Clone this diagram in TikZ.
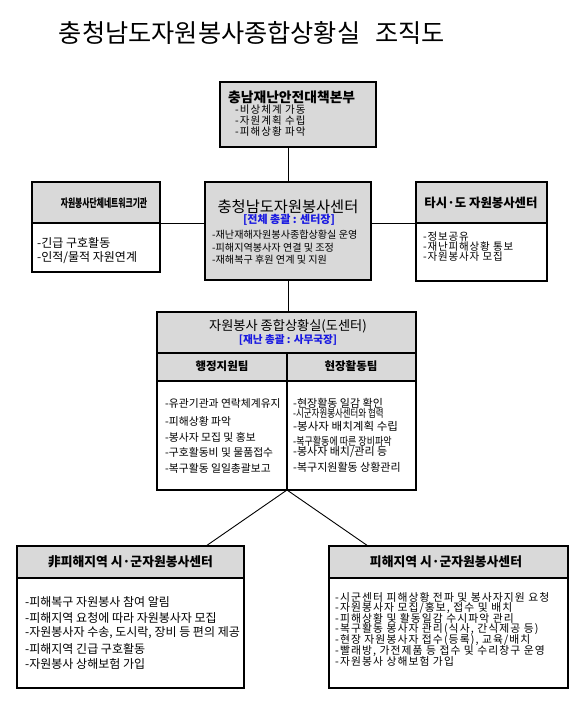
\documentclass[tikz,border=0pt]{standalone}
\usepackage{fontspec}
\usepackage{graphicx}
\setmainfont{Noto Sans CJK KR}
\newcommand\fsz[1]{\fontsize{#1}{#1}\selectfont}
\newcommand\sqz[2]{\scalebox{#1}[1]{#2}}
\newcommand\trk[1]{\addfontfeatures{LetterSpace=#1}}
\definecolor{boxgray}{RGB}{217,217,217}
\definecolor{leadblue}{RGB}{25,25,225}
\begin{document}
\begin{tikzpicture}[x=1pt,y=-1pt,
  gbox/.style={draw=black, line width=1.4pt, fill=boxgray, inner sep=0pt, outer sep=0pt, anchor=north west},
  wbox/.style={draw=black, line width=1.4pt, fill=white, inner sep=0pt, outer sep=0pt, anchor=north west},
  item/.style={anchor=west, inner sep=0pt},
  ctext/.style={anchor=center, inner sep=0pt},
  conn/.style={draw=black, line width=0.9pt},
  lead/.style={ctext, text=leadblue, font=\bfseries\fsz{10.6}}]
\useasboundingbox (0,0) rectangle (580,709);
\fill[white] (0,0) rectangle (580,709);

% title
\node[ctext, font=\fsz{25.2}] (title) at (252,33) {충청남도자원봉사종합상황실\hspace{0.6em}조직도};

% top HQ box
\node[gbox, minimum width=156pt, minimum height=65pt] (hq) at (220,82) {};
\node[item, font=\bfseries\fsz{13.8}] (hqt) at (228,97.5) {충남재난안전대책본부};
\node[item, font={\fsz{10.5}\trk{10}}] (hq1) at (235,110) {-비상체계 가동};
\node[item, font={\fsz{10.5}\trk{10}}] (hq2) at (235,121) {-자원계획 수립};
\node[item, font={\fsz{10.5}\trk{10}}] (hq3) at (235,132) {-피해상황 파악};

% centre box
\node[gbox, minimum width=166pt, minimum height=98pt] (ctr) at (205,182) {};
\node[ctext, font=\fsz{15.3}] (ctrt) at (288,206.5) {충청남도자원봉사센터};
\node[lead, font=\bfseries\fsz{11}] (ctrl) at (289,220) {[전체 총괄 : 센터장]};
\node[item, font=\fsz{10.1}] (ctr1) at (212,235) {-재난재해자원봉사종합상황실 운영};
\node[item, font=\fsz{10.1}] (ctr2) at (212,247.5) {-피해지역봉사자 연결 및 조정};
\node[item, font=\fsz{10.1}] (ctr3) at (212,260) {-재해복구 후원 연계 및 지원};

% left box
\node[gbox, minimum width=128pt, minimum height=41pt] (lhead) at (32,182) {};
\node[wbox, minimum width=128pt, minimum height=49pt] (lbox) at (32,223) {};
\node[ctext, font=\bfseries\fsz{11.5}] (lht) at (104,203) {\sqz{0.68}{자원봉사단체네트워크기관}};
\node[item, font=\fsz{12}] (l1) at (37,243) {-긴급 구호활동};
\node[item, font=\fsz{12}] (l2) at (37,257.5) {-인적/물적 자원연계};

% right box
\node[gbox, minimum width=131pt, minimum height=41pt] (rhead) at (416,182) {};
\node[wbox, minimum width=131pt, minimum height=58pt] (rbox) at (416,223) {};
\node[ctext, font=\bfseries\fsz{12.4}] (rht) at (481,203) {타시·도 자원봉사센터};
\node[item, font={\fsz{10.5}\trk{8}}] (r1) at (423,237) {-정보공유};
\node[item, font={\fsz{10.5}\trk{8}}] (r2) at (423,247) {-재난피해상황 통보};
\node[item, font={\fsz{10.5}\trk{8}}] (r3) at (423,257) {-자원봉사자 모집};

% situation room box
\node[gbox, minimum width=259pt, minimum height=41pt] (sitt) at (157,312) {};
\node[gbox, minimum width=130pt, minimum height=28pt] (sitha) at (157,353) {};
\node[gbox, minimum width=129pt, minimum height=28pt] (sithb) at (287,353) {};
\node[wbox, minimum width=130pt, minimum height=109pt] (sitba) at (157,381) {};
\node[wbox, minimum width=129pt, minimum height=109pt] (sitbb) at (287,381) {};
\node[ctext, font=\fsz{13.2}] (sittt) at (288,326) {자원봉사 종합상황실(도센터)};
\node[lead] (sitl) at (288,339.5) {[재난 총괄 : 사무국장]};
\node[ctext, font=\bfseries\fsz{11.5}] (tma) at (222,366) {행정지원팀};
\node[ctext, font=\bfseries\fsz{11.5}] (tmb) at (351,366) {현장활동팀};
\node[item, font=\fsz{10.8}] (a1) at (165,403) {-유관기관과 연락체계유지};
\node[item, font=\fsz{10.8}] (a2) at (165,421) {-피해상황 파악};
\node[item, font=\fsz{10.8}] (a3) at (165,437) {-봉사자 모집 및 홍보};
\node[item, font=\fsz{10.8}] (a4) at (165,452.5) {-구호활동비 및 물품접수};
\node[item, font=\fsz{10.8}] (a5) at (165,468) {-복구활동 일일총괄보고};
\node[item, font=\fsz{11}] (b1) at (293,403) {-현장활동 일감 확인};
\node[item, font=\fsz{11}] (b2) at (293,413.5) {\sqz{0.77}{-시군자원봉사센터와 협력}};
\node[item, font=\fsz{11}] (b3) at (293,426) {\sqz{1.05}{-봉사자 배치계획 수립}};
\node[item, font=\fsz{11}] (b4) at (293,441) {\sqz{0.82}{-복구활동에 따른 장비파악}};
\node[item, font=\fsz{11}] (b5) at (293,452) {-봉사자 배치/관리 등};
\node[item, font=\fsz{11}] (b6) at (293,467) {-복구지원활동 상황관리};

% bottom-left box
\node[gbox, minimum width=227pt, minimum height=32pt] (blhead) at (17,546) {};
\node[wbox, minimum width=227pt, minimum height=110pt] (blbox) at (17,578) {};
\node[ctext, font=\bfseries\fsz{12.8}] (blt) at (130.5,562) {非피해지역 시·군자원봉사센터};
\node[item, font=\fsz{12}] (bl1) at (25,602) {-피해복구 자원봉사 참여 알림};
\node[item, font=\fsz{12}] (bl2) at (25,617.5) {-피해지역 요청에 따라 자원봉사자 모집};
\node[item, font=\fsz{12}] (bl3) at (25,633) {-자원봉사자 수송, 도시락, 장비 등 편의 제공};
\node[item, font=\fsz{12}] (bl4) at (25,649) {-피해지역 긴급 구호활동};
\node[item, font=\fsz{12}] (bl5) at (25,663.5) {-자원봉사 상해보험 가입};

% bottom-right box
\node[gbox, minimum width=239pt, minimum height=32pt] (brhead) at (329,546) {};
\node[wbox, minimum width=239pt, minimum height=110pt] (brbox) at (329,578) {};
\node[ctext, font=\bfseries\fsz{12.8}] (brt) at (446,562) {피해지역 시·군자원봉사센터};
\node[item, font={\fsz{10.8}\trk{10}}] (br1) at (335,597) {-시군센터 피해상황 전파 및 봉사자지원 요청};
\node[item, font={\fsz{10.8}\trk{10}}] (br2) at (335,607.8) {-자원봉사자 모집/홍보, 접수 및 배치};
\node[item, font={\fsz{10.8}\trk{10}}] (br3) at (335,618.6) {-피해상황 및 활동일감 수시파악 관리};
\node[item, font={\fsz{10.8}\trk{10}}] (br4) at (335,629.4) {-복구활동 봉사자 관리(식사, 간식제공 등)};
\node[item, font={\fsz{10.8}\trk{10}}] (br5) at (335,640.2) {-현장 자원봉사자 접수(등록), 교육/배치};
\node[item, font={\fsz{10.8}\trk{10}}] (br6) at (335,651) {-빨래방, 가전제품 등 접수 및 수리창구 운영};
\node[item, font={\fsz{10.8}\trk{10}}] (br7) at (335,661.8) {-자원봉사 상해보험 가입};

% connectors
\coordinate (blj) at (206,546);
\coordinate (brj) at (368,546);
\draw[conn] (hq.south -| ctr.north) -- (ctr.north);
\draw[conn] (lhead.south east) -- (lhead.south east -| ctr.west);
\draw[conn] (ctr.east |- rhead.south west) -- (rhead.south west);
\draw[conn] (ctr.south) -- (ctr.south |- sitt.north);
\draw[conn] (sitba.south east) -- (blj);
\draw[conn] (sitba.south east) -- (brj);
\end{tikzpicture}
\end{document}
